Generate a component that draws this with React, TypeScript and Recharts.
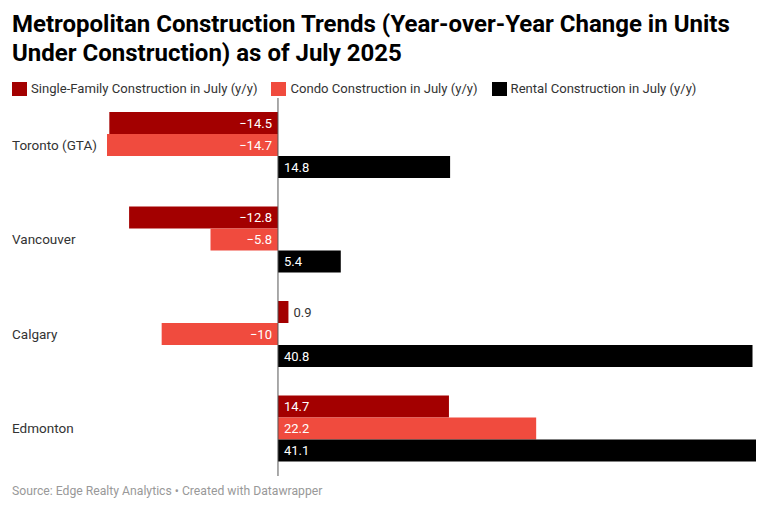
import React from "react";
import {
  Bar,
  BarChart,
  LabelList,
  ReferenceLine,
  XAxis,
  YAxis,
} from "recharts";

const cities = ["Toronto (GTA)", "Vancouver", "Calgary", "Edmonton"];
const singleFamily = [-14.5, -12.8, 0.9, 14.7];
const condo = [-14.7, -5.8, -10, 22.2];
const rental = [14.8, 5.4, 40.8, 41.1];

const series = [
  { key: "singleFamily", name: "Single-Family Construction in July (y/y)", color: "#a30000" },
  { key: "condo", name: "Condo Construction in July (y/y)", color: "#f04b3e" },
  { key: "rental", name: "Rental Construction in July (y/y)", color: "#000000" },
];

const data = cities.map((city, i) => ({
  city,
  singleFamily: singleFamily[i],
  condo: condo[i],
  rental: rental[i],
}));

const FONT = "Roboto, 'Noto Sans', sans-serif";

function fmt(v: number) {
  return v < 0 ? `\u2212${Math.abs(v)}` : String(v);
}

function ValueLabel(props: any) {
  const { x, y, width, height, value } = props;
  const left = Math.min(x, x + width);
  const right = Math.max(x, x + width);
  const cy = y + height / 2;
  if (value < 0) {
    return (
      <text x={right - 6} y={cy} dy="0.35em" textAnchor="end" fontSize={13} fill="#fff" fontFamily={FONT}>
        {fmt(value)}
      </text>
    );
  }
  const inside = right - left > 35;
  return (
    <text
      x={inside ? left + 6 : right + 5}
      y={cy}
      dy="0.35em"
      textAnchor="start"
      fontSize={13}
      fill={inside ? "#fff" : "#333"}
      fontFamily={FONT}
    >
      {fmt(value)}
    </text>
  );
}

function CityTick(props: any) {
  const { y, payload } = props;
  return (
    <text x={12} y={y} dy="0.35em" textAnchor="start" fontSize={13.5} fill="#333" fontFamily={FONT}>
      {payload.value}
    </text>
  );
}

export default function App() {
  return (
    <div
      style={{
        position: "absolute",
        left: 0,
        top: 0,
        width: 768,
        height: 511,
        background: "#fff",
        fontFamily: FONT,
        overflow: "hidden",
      }}
    >
      <div
        style={{
          position: "absolute",
          left: 12,
          top: 10,
          width: 750,
          fontSize: 24,
          lineHeight: "29px",
          fontWeight: 700,
          color: "#000",
        }}
      >
        Metropolitan Construction Trends (Year-over-Year Change in Units Under Construction) as of July 2025
      </div>
      <div
        style={{
          position: "absolute",
          left: 12,
          top: 81,
          display: "flex",
          alignItems: "center",
          fontSize: 13.1,
          lineHeight: "16px",
          color: "#333",
        }}
      >
        {series.map((s) => (
          <div key={s.key} style={{ display: "flex", alignItems: "center", marginRight: 14 }}>
            <span style={{ width: 15, height: 14, background: s.color, marginRight: 4, display: "inline-block" }} />
            <span>{s.name}</span>
          </div>
        ))}
      </div>
      <div style={{ position: "absolute", left: 0, top: 0 }}>
        <BarChart
          width={768}
          height={511}
          data={data}
          layout="vertical"
          margin={{ top: 98, right: 12, bottom: 35, left: 0 }}
          barCategoryGap={14}
          barGap={0}
        >
          <XAxis type="number" domain={[-14.7, 41.1]} hide />
          <YAxis
            type="category"
            dataKey="city"
            width={107}
            axisLine={false}
            tickLine={false}
            tick={<CityTick />}
          />
          {series.map((s) => (
            <Bar key={s.key} dataKey={s.key} name={s.name} fill={s.color} isAnimationActive={false}>
              <LabelList dataKey={s.key} content={<ValueLabel />} />
            </Bar>
          ))}
          <ReferenceLine x={0} stroke="#555" strokeWidth={1} />
        </BarChart>
      </div>
      <div
        style={{
          position: "absolute",
          left: 12,
          top: 484,
          fontSize: 12.2,
          color: "#999",
        }}
      >
        Source: Edge Realty Analytics • Created with Datawrapper
      </div>
    </div>
  );
}
